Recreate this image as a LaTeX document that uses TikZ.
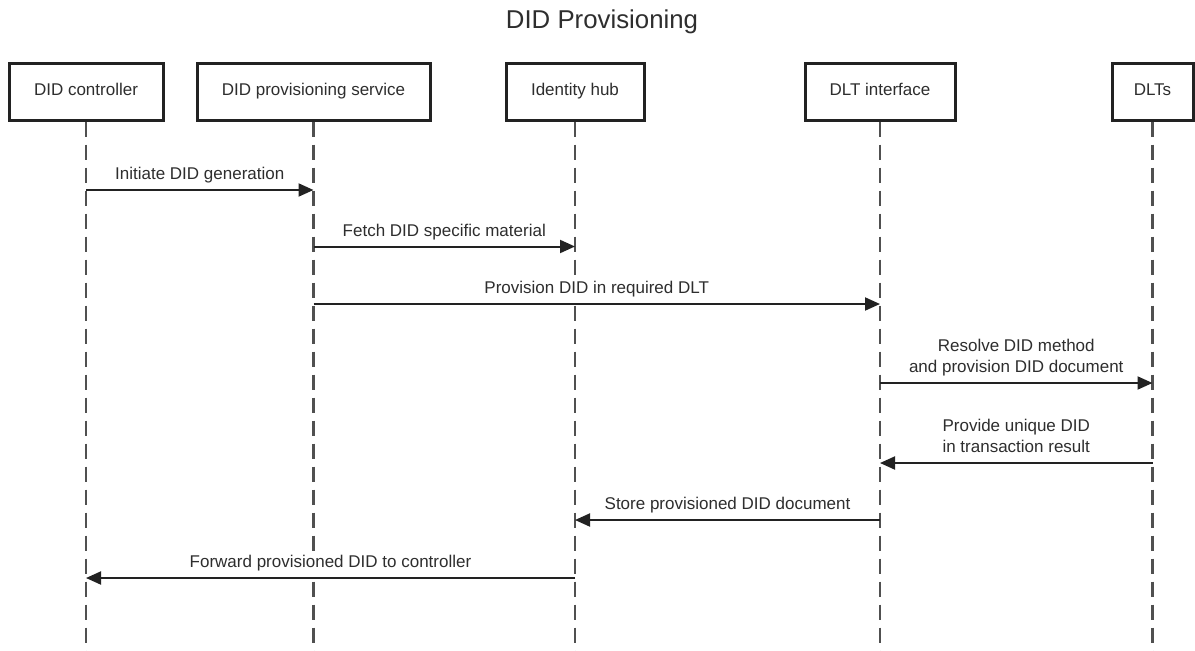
\documentclass[tikz,border=0pt]{standalone}
\usepackage{fontspec}
\setmainfont{Liberation Sans}
\usetikzlibrary{arrows.meta}
\definecolor{ink}{HTML}{222222}
\definecolor{txt}{HTML}{2E2E2E}
\definecolor{lifegray}{HTML}{505050}
\begin{document}
\begin{tikzpicture}[x=1pt,y=-1pt,
  actor/.style={draw=ink, line width=3pt, fill=white, minimum height=57pt,
    inner sep=0pt, text height=12pt, text depth=3.5pt, text=txt,
    font=\fontsize{17}{21}\selectfont},
  lifeline/.style={draw=lifegray, line width=2.5pt, dash pattern=on 15pt off 8pt},
  msg/.style={draw=ink, line width=2pt, -{Triangle[length=15pt,width=13pt]}},
  % label box reaches from just above the arrow to a little over the text,
  % so it hides the lifelines it crosses
  msglabel/.style={anchor=south, inner xsep=2pt, inner ysep=2pt, text depth=6pt,
    yshift=1.5pt, fill=white, align=center, text=txt,
    font=\fontsize{17}{21}\selectfont}]
  \useasboundingbox (0,0) rectangle (1195,651);

  % title
  \node[text=txt, font=\fontsize{25.8}{30}\selectfont] (title) at (602,22) {DID Provisioning};

  % participants
  \node[actor, minimum width=154pt] (ctl) at (86,91.5) {DID controller};
  \node[actor, minimum width=233pt] (svc) at (313.5,91.5) {DID provisioning service};
  \node[actor, minimum width=138pt] (hub) at (575,91.5) {Identity hub};
  \node[actor, minimum width=150pt] (dli) at (880,91.5) {DLT interface};
  \node[actor, minimum width=81pt] (dlt) at (1152.5,91.5) {DLTs};

  % lifelines
  \coordinate (bot) at (0,651);
  \foreach \p in {ctl,svc,hub,dli,dlt}
    \draw[lifeline] (\p.south) -- (\p |- bot);

  % message rows
  \coordinate (r1) at (0,190);
  \coordinate (r2) at (0,246.5);
  \coordinate (r3) at (0,304);
  \coordinate (r4) at (0,383);
  \coordinate (r5) at (0,463);
  \coordinate (r6) at (0,520);
  \coordinate (r7) at (0,578);

  \draw[msg] (ctl |- r1) -- node[msglabel] (m1) {Initiate DID generation} (svc |- r1);
  \draw[msg] (svc |- r2) -- node[msglabel] (m2) {Fetch DID specific material} (hub |- r2);
  \draw[msg] (svc |- r3) -- node[msglabel] (m3) {Provision DID in required DLT} (dli |- r3);
  \draw[msg] (dli |- r4) -- node[msglabel] (m4) {Resolve DID method\\and provision DID document} (dlt |- r4);
  \draw[msg] (dlt |- r5) -- node[msglabel] (m5) {Provide unique DID\\in transaction result} (dli |- r5);
  \draw[msg] (dli |- r6) -- node[msglabel] (m6) {Store provisioned DID document} (hub |- r6);
  \draw[msg] (hub |- r7) -- node[msglabel] (m7) {Forward provisioned DID to controller} (ctl |- r7);
\end{tikzpicture}
\end{document}
